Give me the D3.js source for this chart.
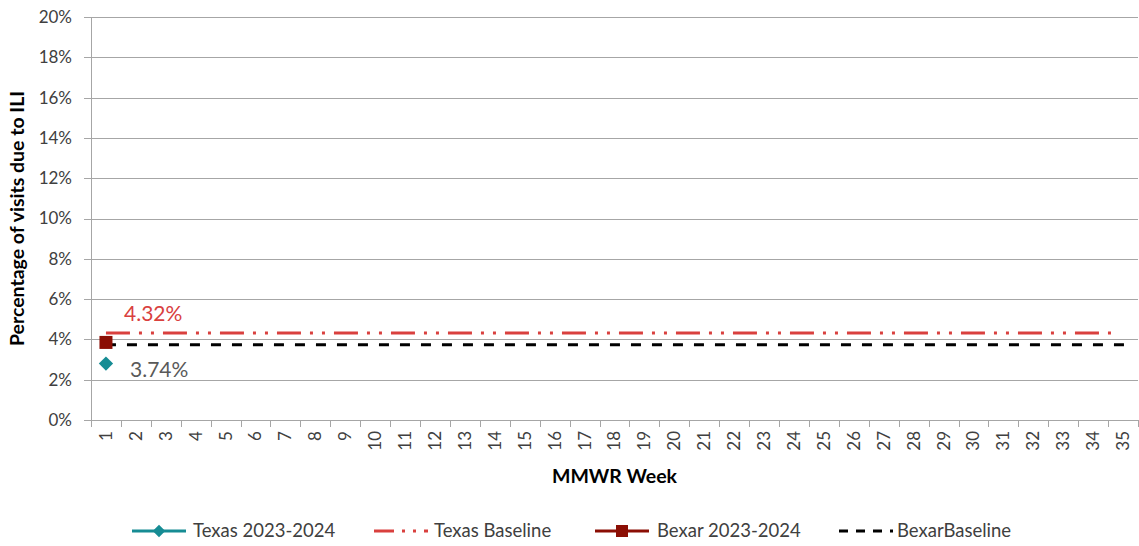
<!DOCTYPE html>
<html>
<head>
<meta charset="utf-8">
<script src="https://cdn.jsdelivr.net/npm/d3@7"></script>
<style>
  body { margin: 0; background: #fff; }
  text { font-family: Lato, "Open Sans", sans-serif; }
</style>
</head>
<body>
<div id="chart"></div>
<script>
// weeks 1..35
var weeks = d3.range(1, 36);
var yTicks = [0, 2, 4, 6, 8, 10, 12, 14, 16, 18, 20];

// only week 1 has data so far
var texasWeeks = [1];
var texasValues = [2.8];
var bexarWeeks = [1];
var bexarValues = [3.85];

var texasBaseline = 4.32;
var bexarBaseline = 3.74;

var width = 1139, height = 546;
var margin = { left: 91, right: 1, top: 17, bottom: 126 };

var svg = d3.select('#chart').append('svg')
    .attr('width', width)
    .attr('height', height);

var x = d3.scaleBand()
    .domain(weeks)
    .range([margin.left, width - margin.right]);

var y = d3.scaleLinear()
    .domain([0, 20])
    .range([height - margin.bottom, margin.top]);

// gridlines
svg.append('g').selectAll('line')
    .data(yTicks).enter()
    .append('line')
    .attr('x1', margin.left - 7)
    .attr('x2', width - margin.right)
    .attr('y1', function (d) { return Math.round(y(d)) + 0.5; })
    .attr('y2', function (d) { return Math.round(y(d)) + 0.5; })
    .attr('stroke', '#a6a6a6')
    .attr('stroke-width', 1);

// y axis line
svg.append('line')
    .attr('x1', margin.left + 0.5).attr('x2', margin.left + 0.5)
    .attr('y1', y(20)).attr('y2', y(0))
    .attr('stroke', '#a6a6a6');

// y tick labels
svg.append('g').selectAll('text')
    .data(yTicks).enter()
    .append('text')
    .attr('x', margin.left - 19)
    .attr('y', function (d) { return y(d); })
    .attr('dy', '0.35em')
    .attr('text-anchor', 'end')
    .attr('font-size', 17)
    .attr('fill', '#404040')
    .text(function (d) { return d + '%'; });

// x tick marks between categories
var bounds = weeks.map(function (w) { return x(w); }).concat([x(35) + x.bandwidth()]);
svg.append('g').selectAll('line')
    .data(bounds).enter()
    .append('line')
    .attr('x1', function (d) { return Math.round(d) + 0.5; })
    .attr('x2', function (d) { return Math.round(d) + 0.5; })
    .attr('y1', y(0))
    .attr('y2', y(0) + 7)
    .attr('stroke', '#a6a6a6');

// x tick labels rotated
svg.append('g').selectAll('text')
    .data(weeks).enter()
    .append('text')
    .attr('transform', function (d) {
        return 'translate(' + (x(d) + x.bandwidth() / 2) + ',' + (y(0) + 11) + ') rotate(-90)';
    })
    .attr('dy', '0.35em')
    .attr('text-anchor', 'end')
    .attr('font-size', 17)
    .attr('fill', '#404040')
    .text(String);

// axis titles
svg.append('text')
    .attr('transform', 'translate(24,' + ((y(0) + y(20)) / 2) + ') rotate(-90)')
    .attr('text-anchor', 'middle')
    .attr('font-size', 19.5)
    .attr('font-weight', 'bold')
    .attr('fill', '#000')
    .text('Percentage of visits due to ILI');

svg.append('text')
    .attr('x', (margin.left + width - margin.right) / 2)
    .attr('y', 483)
    .attr('text-anchor', 'middle')
    .attr('font-size', 19.5)
    .attr('font-weight', 'bold')
    .attr('fill', '#000')
    .text('MMWR Week');

var cx = function (w) { return x(w) + x.bandwidth() / 2; };

// baselines
svg.append('line')
    .attr('x1', cx(1)).attr('x2', cx(35) - 4)
    .attr('y1', y(texasBaseline)).attr('y2', y(texasBaseline))
    .attr('stroke', '#d9403e')
    .attr('stroke-width', 3)
    .attr('stroke-dasharray', '24,9,3,9,3,9');

svg.append('line')
    .attr('x1', cx(1)).attr('x2', cx(35) + 4)
    .attr('y1', y(bexarBaseline)).attr('y2', y(bexarBaseline))
    .attr('stroke', '#000')
    .attr('stroke-width', 3)
    .attr('stroke-dasharray', '10,11');

// baseline labels
svg.append('text')
    .attr('x', 124).attr('y', y(texasBaseline) - 12)
    .attr('font-size', 21)
    .attr('fill', '#d9403e')
    .text(texasBaseline.toFixed(2) + '%');

svg.append('text')
    .attr('x', 130).attr('y', y(bexarBaseline) + 32)
    .attr('font-size', 21)
    .attr('fill', '#595959')
    .text(bexarBaseline.toFixed(2) + '%');

// points
var diamond = d3.symbol().type(d3.symbolDiamond2).size(130);
svg.append('g').selectAll('path')
    .data(texasWeeks).enter()
    .append('path')
    .attr('d', diamond)
    .attr('transform', function (d, i) { return 'translate(' + cx(d) + ',' + y(texasValues[i]) + ')'; })
    .attr('fill', '#168c94');

svg.append('g').selectAll('rect')
    .data(bexarWeeks).enter()
    .append('rect')
    .attr('x', function (d) { return cx(d) - 6.5; })
    .attr('y', function (d, i) { return y(bexarValues[i]) - 6.5; })
    .attr('width', 13).attr('height', 13)
    .attr('fill', '#8b0e04');

// legend
var legendY = 531;
var legend = svg.append('g');

function legendLine(x0, color, dash) {
    legend.append('line')
        .attr('x1', x0).attr('x2', x0 + 54)
        .attr('y1', legendY).attr('y2', legendY)
        .attr('stroke', color).attr('stroke-width', 3)
        .attr('stroke-dasharray', dash || null);
}
function legendText(x0, label) {
    legend.append('text')
        .attr('x', x0).attr('y', legendY)
        .attr('dy', '0.35em')
        .attr('font-size', 18.5)
        .attr('fill', '#404040')
        .text(label);
}

legendLine(132, '#168c94');
legend.append('path').attr('d', d3.symbol().type(d3.symbolDiamond2).size(100))
    .attr('transform', 'translate(159,' + legendY + ')')
    .attr('fill', '#168c94');
legendText(193, 'Texas 2023-2024');

legendLine(374, '#d9403e', '20,8,3,8,3,8');
legendText(434, 'Texas Baseline');

legendLine(595, '#8b0e04');
legend.append('rect')
    .attr('x', 616).attr('y', legendY - 6)
    .attr('width', 12).attr('height', 12)
    .attr('fill', '#8b0e04');
legendText(657, 'Bexar 2023-2024');

legendLine(839, '#000', '9,8');
legendText(897, 'BexarBaseline');
</script>
</body>
</html>
